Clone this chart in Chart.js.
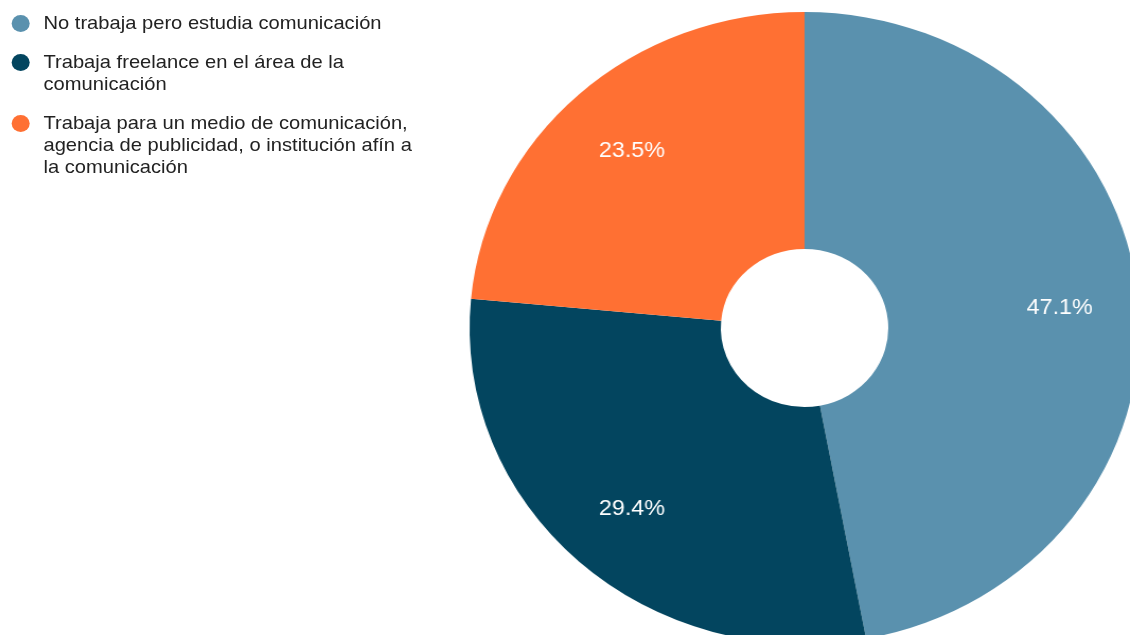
<!DOCTYPE html>
<html>
<head>
<meta charset="utf-8">
<script src="https://cdn.jsdelivr.net/npm/chart.js@4"></script>
<style>
    html, body { margin: 0; padding: 0; background: #fff; overflow: hidden; }
    /* the reference is a little wider than tall, so the whole drawing is stretched */
    #wrap {
        position: absolute; left: 0; top: 0;
        width: 1100px; height: 680px;
        transform: scaleX(1.06); transform-origin: 0 0;
    }
    #chart-box { position: absolute; left: 0; top: 0; width: 1100px; height: 680px; }
    #legend {
        position: absolute; left: 0; top: 12px; width: 400px;
        font-family: "Liberation Sans", Arial, sans-serif;
        font-size: 19px; line-height: 22px; color: #222;
    }
    .legend-item { position: relative; padding-left: 41px; margin-bottom: 17px; }
    .legend-dot {
        position: absolute; left: 11px; top: 2.5px;
        width: 17px; height: 17px; border-radius: 50%;
    }
</style>
</head>
<body>
<div id="wrap">
    <div id="chart-box"><canvas id="chart"></canvas></div>
    <div id="legend"></div>
</div>
<script>
var categories = [
    ['No trabaja pero estudia comunicación'],
    ['Trabaja freelance en el área de la', 'comunicación'],
    ['Trabaja para un medio de comunicación,', 'agencia de publicidad, o institución afín a', 'la comunicación']
];
var counts = [8, 5, 4];
var colors = ['#5a91ae', '#03455f', '#ff7033'];

// legend on the left, built from the same arrays
var legend = document.getElementById('legend');
categories.forEach(function(lines, i) {
    var item = document.createElement('div');
    item.className = 'legend-item';
    var dot = document.createElement('span');
    dot.className = 'legend-dot';
    dot.style.background = colors[i];
    item.appendChild(dot);
    lines.forEach(function(line, j) {
        if (j > 0) item.appendChild(document.createElement('br'));
        item.appendChild(document.createTextNode(line));
    });
    legend.appendChild(item);
});

// percentage labels inside the slices
var percentLabels = {
    id: 'percentLabels',
    afterDatasetsDraw: function(chart) {
        var ctx = chart.ctx;
        var data = chart.data.datasets[0].data;
        var total = data.reduce(function(a, b) { return a + b; }, 0);
        var meta = chart.getDatasetMeta(0);
        ctx.save();
        ctx.font = '22px "Liberation Sans", Arial, sans-serif';
        ctx.fillStyle = '#ffffff';
        ctx.textAlign = 'center';
        ctx.textBaseline = 'middle';
        meta.data.forEach(function(arc, i) {
            var p = arc.getProps(['x', 'y', 'startAngle', 'endAngle', 'outerRadius'], true);
            var mid = (p.startAngle + p.endAngle) / 2;
            var r = p.outerRadius * 0.765;
            var text = (data[i] / total * 100).toFixed(1) + '%';
            ctx.fillText(text, p.x + Math.cos(mid) * r, p.y + Math.sin(mid) * r + 2);
        });
        ctx.restore();
    }
};

new Chart(document.getElementById('chart'), {
    type: 'doughnut',
    data: {
        labels: categories,
        datasets: [{
            data: counts,
            backgroundColor: colors,
            borderWidth: 0
        }]
    },
    options: {
        responsive: true,
        maintainAspectRatio: false,
        animation: false,
        cutout: '25%',
        layout: {
            padding: { left: 443, top: 12, right: 25, bottom: 36 }
        },
        plugins: {
            legend: { display: false },
            tooltip: { enabled: true }
        }
    },
    plugins: [percentLabels]
});
</script>
</body>
</html>
